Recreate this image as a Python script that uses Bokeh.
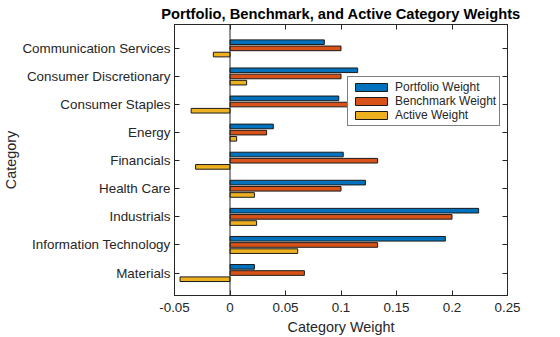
from bokeh.plotting import figure
from bokeh.models import ColumnDataSource, Range1d, FixedTicker, LinearAxis, Span
from bokeh.transform import dodge
from bokeh.embed import file_html
from bokeh.resources import INLINE

categories = ["Communication Services", "Consumer Discretionary", "Consumer Staples",
              "Energy", "Financials", "Health Care", "Industrials",
              "Information Technology", "Materials"]
portfolio = [0.085, 0.115, 0.098, 0.039, 0.102, 0.122, 0.224, 0.194, 0.022]
benchmark = [0.100, 0.100, 0.133, 0.033, 0.133, 0.100, 0.200, 0.133, 0.067]
active = [-0.015, 0.015, -0.035, 0.006, -0.031, 0.022, 0.024, 0.061, -0.045]
x_ticks = [-0.05, 0, 0.05, 0.1, 0.15, 0.2, 0.25]
x_tick_labels = ["-0.05", "0", "0.05", "0.1", "0.15", "0.2", "0.25"]

pos = list(range(1, len(categories) + 1))
source = ColumnDataSource(dict(pos=pos, portfolio=portfolio, benchmark=benchmark, active=active))

FONT = "Liberation Sans"
TXT = "#262626"

p = figure(width=560, height=337, output_backend="svg", toolbar_location=None,
           x_range=Range1d(-0.05, 0.25), y_range=Range1d(9.8, 0.15),
           min_border_left=173, min_border_right=53, min_border_top=24, min_border_bottom=39,
           title="Portfolio, Benchmark, and Active Category Weights")
p.title.text_font = FONT
p.title.text_font_size = "14.7px"
p.title.text_font_style = "bold"
p.title.text_color = "#000000"
p.title.align = "center"
p.title.standoff = 5
p.title.offset = 0
p.xgrid.visible = False
p.ygrid.visible = False
p.outline_line_color = TXT
p.outline_line_width = 1

colors = ["#0072BD", "#D95319", "#EDB120"]
names = ["Portfolio Weight", "Benchmark Weight", "Active Weight"]
fields = ["portfolio", "benchmark", "active"]
offsets = [-0.22, 0.0, 0.22]
for f, c, n, o in zip(fields, colors, names, offsets):
    p.hbar(y=dodge("pos", o, range=p.y_range), right=f, left=0, height=0.165,
           fill_color=c, line_color="#1a1a1a", line_width=1, legend_label=n, source=source)

p.add_layout(Span(location=0, dimension="height", line_color=TXT, line_width=1))

# bottom axis
xa = p.xaxis[0]
xa.ticker = FixedTicker(ticks=x_ticks)
xa.major_label_overrides = {t: l for t, l in zip(x_ticks, x_tick_labels)}
xa.axis_label = "Category Weight"
# left axis
ya = p.yaxis[0]
ya.ticker = FixedTicker(ticks=pos)
ya.major_label_overrides = {pp: c for pp, c in zip(pos, categories)}
ya.axis_label = "Category"

for ax in (xa, ya):
    ax.major_tick_in = 5
    ax.major_tick_out = 0
    ax.minor_tick_line_color = None
    ax.axis_line_color = TXT
    ax.major_tick_line_color = TXT
    ax.major_label_text_font = FONT
    ax.major_label_text_font_size = "13.4px"
    ax.major_label_text_color = TXT
    ax.axis_label_text_font = FONT
    ax.axis_label_text_font_size = "14.4px"
    ax.axis_label_text_font_style = "normal"
    ax.axis_label_text_color = TXT
xa.major_label_standoff = 7
xa.axis_label_standoff = 4
ya.major_label_standoff = 4
ya.axis_label_standoff = 0

top = LinearAxis(ticker=FixedTicker(ticks=x_ticks), major_label_text_font_size="0px",
                 major_label_text_color=None, major_label_standoff=0,
                 major_tick_in=5, major_tick_out=0, minor_tick_line_color=None,
                 axis_line_color=TXT, major_tick_line_color=TXT)
right = LinearAxis(ticker=FixedTicker(ticks=pos), major_label_text_font_size="0px",
                   major_label_text_color=None, major_label_standoff=0,
                   major_tick_in=5, major_tick_out=0, minor_tick_line_color=None,
                   axis_line_color=TXT, major_tick_line_color=TXT)
p.add_layout(top, "above")
p.add_layout(right, "right")

lg = p.legend[0]
lg.location = (173, 169)
lg.label_text_font = FONT
lg.label_text_font_size = "12px"
lg.label_text_color = TXT
lg.glyph_width = 40
lg.glyph_height = 10
lg.label_height = 13
lg.label_standoff = 4
lg.spacing = 0
lg.padding = 3
lg.margin = 0
lg.border_line_color = "#000000"
lg.border_line_width = 1
lg.background_fill_alpha = 1

open("out.html", "w").write(file_html(p, INLINE))
